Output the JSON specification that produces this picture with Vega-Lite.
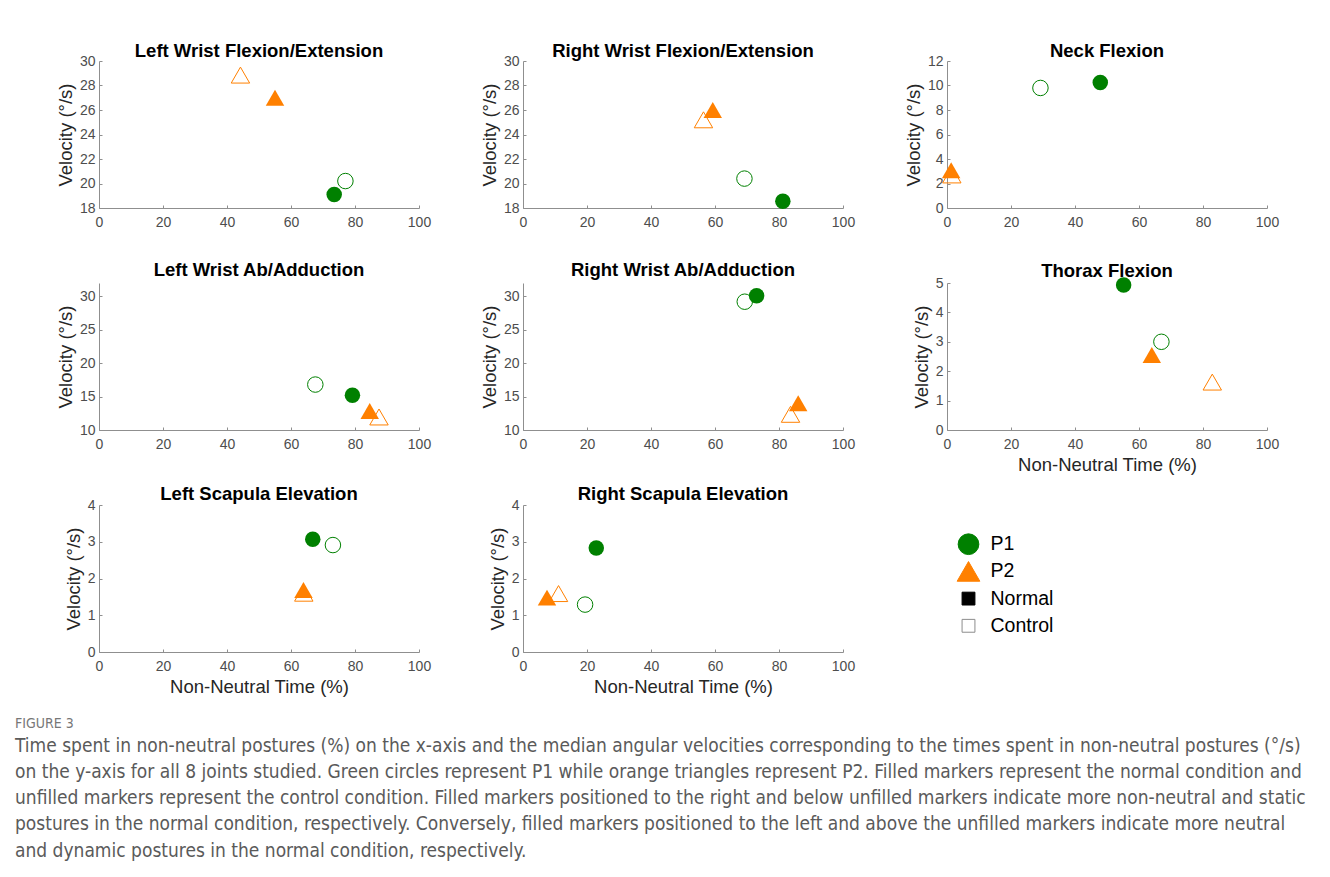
{
  "$schema": "https://vega.github.io/schema/vega-lite/v6.json",
  "padding": {"left": 15, "top": 41, "right": 5, "bottom": 5},
  "datasets": {
    "pts": [
      {"j": "LWFE", "p": "P1", "c": "Normal", "t": 73.5, "v": 19.1},
      {"j": "LWFE", "p": "P1", "c": "Control", "t": 77.0, "v": 20.2},
      {"j": "LWFE", "p": "P2", "c": "Normal", "t": 55.0, "v": 27.0},
      {"j": "LWFE", "p": "P2", "c": "Control", "t": 44.2, "v": 28.85},
      {"j": "RWFE", "p": "P1", "c": "Normal", "t": 81.2, "v": 18.55},
      {"j": "RWFE", "p": "P1", "c": "Control", "t": 69.2, "v": 20.4},
      {"j": "RWFE", "p": "P2", "c": "Normal", "t": 59.3, "v": 26.0},
      {"j": "RWFE", "p": "P2", "c": "Control", "t": 56.4, "v": 25.2},
      {"j": "NF", "p": "P1", "c": "Normal", "t": 47.9, "v": 10.25},
      {"j": "NF", "p": "P1", "c": "Control", "t": 29.2, "v": 9.8},
      {"j": "NF", "p": "P2", "c": "Normal", "t": 1.3, "v": 3.08},
      {"j": "NF", "p": "P2", "c": "Control", "t": 1.5, "v": 2.7},
      {"j": "LWAA", "p": "P1", "c": "Normal", "t": 79.2, "v": 15.2},
      {"j": "LWAA", "p": "P1", "c": "Control", "t": 67.6, "v": 16.8},
      {"j": "LWAA", "p": "P2", "c": "Normal", "t": 84.6, "v": 12.85},
      {"j": "LWAA", "p": "P2", "c": "Control", "t": 87.5, "v": 11.95},
      {"j": "RWAA", "p": "P1", "c": "Normal", "t": 73.0, "v": 30.1},
      {"j": "RWAA", "p": "P1", "c": "Control", "t": 69.3, "v": 29.2},
      {"j": "RWAA", "p": "P2", "c": "Normal", "t": 86.0, "v": 14.0},
      {"j": "RWAA", "p": "P2", "c": "Control", "t": 83.6, "v": 12.35},
      {"j": "TF", "p": "P1", "c": "Normal", "t": 55.2, "v": 4.93},
      {"j": "TF", "p": "P1", "c": "Control", "t": 67.0, "v": 3.0},
      {"j": "TF", "p": "P2", "c": "Normal", "t": 64.0, "v": 2.55},
      {"j": "TF", "p": "P2", "c": "Control", "t": 82.9, "v": 1.63},
      {"j": "LSE", "p": "P1", "c": "Normal", "t": 66.8, "v": 3.07},
      {"j": "LSE", "p": "P1", "c": "Control", "t": 73.1, "v": 2.91},
      {"j": "LSE", "p": "P2", "c": "Normal", "t": 63.9, "v": 1.69},
      {"j": "LSE", "p": "P2", "c": "Control", "t": 64.0, "v": 1.6},
      {"j": "RSE", "p": "P1", "c": "Normal", "t": 22.9, "v": 2.83},
      {"j": "RSE", "p": "P1", "c": "Control", "t": 19.4, "v": 1.29},
      {"j": "RSE", "p": "P2", "c": "Normal", "t": 7.5, "v": 1.48},
      {"j": "RSE", "p": "P2", "c": "Control", "t": 11.1, "v": 1.59}
    ],
    "leg": [
      {"item": "P1"},
      {"item": "P2"},
      {"item": "Normal"},
      {"item": "Control"}
    ]
  },
  "title": {
    "text": "FIGURE 3",
    "subtitle": [
      "Time spent in non-neutral postures (%) on the x-axis and the median angular velocities corresponding to the times spent in non-neutral postures (°/s)",
      "on the y-axis for all 8 joints studied. Green circles represent P1 while orange triangles represent P2. Filled markers represent the normal condition and",
      "unfilled markers represent the control condition. Filled markers positioned to the right and below unfilled markers indicate more non-neutral and static",
      "postures in the normal condition, respectively. Conversely, filled markers positioned to the left and above the unfilled markers indicate more neutral",
      "and dynamic postures in the normal condition, respectively."
    ],
    "orient": "bottom",
    "anchor": "start",
    "frame": "group",
    "dx": -84,
    "offset": 21,
    "font": "Liberation Sans Narrow, DejaVu Sans Condensed, Liberation Sans",
    "fontSize": 14,
    "fontWeight": "normal",
    "color": "#777777",
    "subtitleFont": "Liberation Sans Narrow, DejaVu Sans Condensed, Liberation Sans",
    "subtitleFontSize": 19,
    "subtitleColor": "#5a5a5a",
    "subtitleLineHeight": 26.3,
    "subtitlePadding": 6
  },
  "columns": 3,
  "spacing": {"row": 75, "column": 104},
  "bounds": "flush",
  "resolve": {"scale": {"color": "independent", "shape": "independent", "size": "independent", "fill": "independent", "stroke": "independent"}},
  "concat": [
    {
      "title": {"text": "Left Wrist Flexion/Extension", "offset": -6},
      "width": 320, "height": 147,
      "data": {"name": "pts"},
      "transform": [{"filter": "datum.j === 'LWFE'"}],
      "encoding": {
        "x": {"field": "t", "type": "quantitative", "scale": {"domain": [0, 100]}, "axis": {"values": [0, 20, 40, 60, 80, 100], "title": null}},
        "y": {"field": "v", "type": "quantitative", "scale": {"domain": [18, 30]}, "axis": {"values": [18, 20, 22, 24, 26, 28, 30], "title": "Velocity (°/s)"}},
        "color": {"field": "p", "type": "nominal", "scale": {"domain": ["P1", "P2"], "range": ["#008000", "#ff8000"]}, "legend": null},
        "shape": {"field": "p", "type": "nominal", "scale": {"domain": ["P1", "P2"], "range": ["circle", "triangle-up"]}, "legend": null},
        "size": {"field": "p", "type": "nominal", "scale": {"type": "ordinal", "domain": ["P1", "P2"], "range": [240, 340]}, "legend": null}
      },
      "layer": [
        {"transform": [{"filter": "datum.c === 'Control'"}], "mark": {"type": "point", "filled": false, "strokeWidth": 1, "opacity": 1}},
        {"transform": [{"filter": "datum.c === 'Normal'"}], "mark": {"type": "point", "filled": true, "opacity": 1}}
      ]
    },
    {
      "title": {"text": "Right Wrist Flexion/Extension", "offset": -6},
      "width": 320, "height": 147,
      "data": {"name": "pts"},
      "transform": [{"filter": "datum.j === 'RWFE'"}],
      "encoding": {
        "x": {"field": "t", "type": "quantitative", "scale": {"domain": [0, 100]}, "axis": {"values": [0, 20, 40, 60, 80, 100], "title": null}},
        "y": {"field": "v", "type": "quantitative", "scale": {"domain": [18, 30]}, "axis": {"values": [18, 20, 22, 24, 26, 28, 30], "title": "Velocity (°/s)"}},
        "color": {"field": "p", "type": "nominal", "scale": {"domain": ["P1", "P2"], "range": ["#008000", "#ff8000"]}, "legend": null},
        "shape": {"field": "p", "type": "nominal", "scale": {"domain": ["P1", "P2"], "range": ["circle", "triangle-up"]}, "legend": null},
        "size": {"field": "p", "type": "nominal", "scale": {"type": "ordinal", "domain": ["P1", "P2"], "range": [240, 340]}, "legend": null}
      },
      "layer": [
        {"transform": [{"filter": "datum.c === 'Control'"}], "mark": {"type": "point", "filled": false, "strokeWidth": 1, "opacity": 1}},
        {"transform": [{"filter": "datum.c === 'Normal'"}], "mark": {"type": "point", "filled": true, "opacity": 1}}
      ]
    },
    {
      "title": {"text": "Neck Flexion", "offset": -6},
      "width": 320, "height": 147,
      "data": {"name": "pts"},
      "transform": [{"filter": "datum.j === 'NF'"}],
      "encoding": {
        "x": {"field": "t", "type": "quantitative", "scale": {"domain": [0, 100]}, "axis": {"values": [0, 20, 40, 60, 80, 100], "title": null}},
        "y": {"field": "v", "type": "quantitative", "scale": {"domain": [0, 12]}, "axis": {"values": [0, 2, 4, 6, 8, 10, 12], "title": "Velocity (°/s)"}},
        "color": {"field": "p", "type": "nominal", "scale": {"domain": ["P1", "P2"], "range": ["#008000", "#ff8000"]}, "legend": null},
        "shape": {"field": "p", "type": "nominal", "scale": {"domain": ["P1", "P2"], "range": ["circle", "triangle-up"]}, "legend": null},
        "size": {"field": "p", "type": "nominal", "scale": {"type": "ordinal", "domain": ["P1", "P2"], "range": [240, 340]}, "legend": null}
      },
      "layer": [
        {"transform": [{"filter": "datum.c === 'Control'"}], "mark": {"type": "point", "filled": false, "strokeWidth": 1, "opacity": 1}},
        {"transform": [{"filter": "datum.c === 'Normal'"}], "mark": {"type": "point", "filled": true, "opacity": 1}}
      ]
    },
    {
      "title": {"text": "Left Wrist Ab/Adduction", "offset": 4},
      "width": 320, "height": 147,
      "data": {"name": "pts"},
      "transform": [{"filter": "datum.j === 'LWAA'"}],
      "encoding": {
        "x": {"field": "t", "type": "quantitative", "scale": {"domain": [0, 100]}, "axis": {"values": [0, 20, 40, 60, 80, 100], "title": null}},
        "y": {"field": "v", "type": "quantitative", "scale": {"domain": [10, 32]}, "axis": {"values": [10, 15, 20, 25, 30], "title": "Velocity (°/s)"}},
        "color": {"field": "p", "type": "nominal", "scale": {"domain": ["P1", "P2"], "range": ["#008000", "#ff8000"]}, "legend": null},
        "shape": {"field": "p", "type": "nominal", "scale": {"domain": ["P1", "P2"], "range": ["circle", "triangle-up"]}, "legend": null},
        "size": {"field": "p", "type": "nominal", "scale": {"type": "ordinal", "domain": ["P1", "P2"], "range": [240, 340]}, "legend": null}
      },
      "layer": [
        {"transform": [{"filter": "datum.c === 'Control'"}], "mark": {"type": "point", "filled": false, "strokeWidth": 1, "opacity": 1}},
        {"transform": [{"filter": "datum.c === 'Normal'"}], "mark": {"type": "point", "filled": true, "opacity": 1}}
      ]
    },
    {
      "title": {"text": "Right Wrist Ab/Adduction", "offset": 4},
      "width": 320, "height": 147,
      "data": {"name": "pts"},
      "transform": [{"filter": "datum.j === 'RWAA'"}],
      "encoding": {
        "x": {"field": "t", "type": "quantitative", "scale": {"domain": [0, 100]}, "axis": {"values": [0, 20, 40, 60, 80, 100], "title": null}},
        "y": {"field": "v", "type": "quantitative", "scale": {"domain": [10, 32]}, "axis": {"values": [10, 15, 20, 25, 30], "title": "Velocity (°/s)"}},
        "color": {"field": "p", "type": "nominal", "scale": {"domain": ["P1", "P2"], "range": ["#008000", "#ff8000"]}, "legend": null},
        "shape": {"field": "p", "type": "nominal", "scale": {"domain": ["P1", "P2"], "range": ["circle", "triangle-up"]}, "legend": null},
        "size": {"field": "p", "type": "nominal", "scale": {"type": "ordinal", "domain": ["P1", "P2"], "range": [240, 340]}, "legend": null}
      },
      "layer": [
        {"transform": [{"filter": "datum.c === 'Control'"}], "mark": {"type": "point", "filled": false, "strokeWidth": 1, "opacity": 1}},
        {"transform": [{"filter": "datum.c === 'Normal'"}], "mark": {"type": "point", "filled": true, "opacity": 1}}
      ]
    },
    {
      "title": {"text": "Thorax Flexion", "offset": -4},
      "width": 320, "height": 147,
      "data": {"name": "pts"},
      "transform": [{"filter": "datum.j === 'TF'"}],
      "encoding": {
        "x": {"field": "t", "type": "quantitative", "scale": {"domain": [0, 100]}, "axis": {"values": [0, 20, 40, 60, 80, 100], "title": "Non-Neutral Time (%)"}},
        "y": {"field": "v", "type": "quantitative", "scale": {"domain": [0, 5]}, "axis": {"values": [0, 1, 2, 3, 4, 5], "title": "Velocity (°/s)"}},
        "color": {"field": "p", "type": "nominal", "scale": {"domain": ["P1", "P2"], "range": ["#008000", "#ff8000"]}, "legend": null},
        "shape": {"field": "p", "type": "nominal", "scale": {"domain": ["P1", "P2"], "range": ["circle", "triangle-up"]}, "legend": null},
        "size": {"field": "p", "type": "nominal", "scale": {"type": "ordinal", "domain": ["P1", "P2"], "range": [240, 340]}, "legend": null}
      },
      "layer": [
        {"transform": [{"filter": "datum.c === 'Control'"}], "mark": {"type": "point", "filled": false, "strokeWidth": 1, "opacity": 1}},
        {"transform": [{"filter": "datum.c === 'Normal'"}], "mark": {"type": "point", "filled": true, "opacity": 1}}
      ]
    },
    {
      "title": {"text": "Left Scapula Elevation", "offset": -5},
      "width": 320, "height": 147,
      "data": {"name": "pts"},
      "transform": [{"filter": "datum.j === 'LSE'"}],
      "encoding": {
        "x": {"field": "t", "type": "quantitative", "scale": {"domain": [0, 100]}, "axis": {"values": [0, 20, 40, 60, 80, 100], "title": "Non-Neutral Time (%)"}},
        "y": {"field": "v", "type": "quantitative", "scale": {"domain": [0, 4]}, "axis": {"values": [0, 1, 2, 3, 4], "title": "Velocity (°/s)"}},
        "color": {"field": "p", "type": "nominal", "scale": {"domain": ["P1", "P2"], "range": ["#008000", "#ff8000"]}, "legend": null},
        "shape": {"field": "p", "type": "nominal", "scale": {"domain": ["P1", "P2"], "range": ["circle", "triangle-up"]}, "legend": null},
        "size": {"field": "p", "type": "nominal", "scale": {"type": "ordinal", "domain": ["P1", "P2"], "range": [240, 340]}, "legend": null}
      },
      "layer": [
        {"transform": [{"filter": "datum.c === 'Control'"}], "mark": {"type": "point", "filled": false, "strokeWidth": 1, "opacity": 1}},
        {"transform": [{"filter": "datum.c === 'Normal'"}], "mark": {"type": "point", "filled": true, "opacity": 1}}
      ]
    },
    {
      "title": {"text": "Right Scapula Elevation", "offset": -5},
      "width": 320, "height": 147,
      "data": {"name": "pts"},
      "transform": [{"filter": "datum.j === 'RSE'"}],
      "encoding": {
        "x": {"field": "t", "type": "quantitative", "scale": {"domain": [0, 100]}, "axis": {"values": [0, 20, 40, 60, 80, 100], "title": "Non-Neutral Time (%)"}},
        "y": {"field": "v", "type": "quantitative", "scale": {"domain": [0, 4]}, "axis": {"values": [0, 1, 2, 3, 4], "title": "Velocity (°/s)"}},
        "color": {"field": "p", "type": "nominal", "scale": {"domain": ["P1", "P2"], "range": ["#008000", "#ff8000"]}, "legend": null},
        "shape": {"field": "p", "type": "nominal", "scale": {"domain": ["P1", "P2"], "range": ["circle", "triangle-up"]}, "legend": null},
        "size": {"field": "p", "type": "nominal", "scale": {"type": "ordinal", "domain": ["P1", "P2"], "range": [240, 340]}, "legend": null}
      },
      "layer": [
        {"transform": [{"filter": "datum.c === 'Control'"}], "mark": {"type": "point", "filled": false, "strokeWidth": 1, "opacity": 1}},
        {"transform": [{"filter": "datum.c === 'Normal'"}], "mark": {"type": "point", "filled": true, "opacity": 1}}
      ]
    },
    {
      "width": 43, "height": 136,
      "data": {"name": "leg"},
      "encoding": {
        "y": {"field": "item", "type": "nominal", "scale": {"domain": ["P1", "P2", "Normal", "Control"], "padding": 1}, "axis": null}
      },
      "layer": [
        {
          "mark": {"type": "point", "filled": true, "opacity": 1, "strokeWidth": 1, "yOffset": 12},
          "encoding": {
            "shape": {"field": "item", "type": "nominal", "scale": {"domain": ["P1", "P2", "Normal", "Control"], "range": ["circle", "triangle-up", "square", "square"]}, "legend": null},
            "fill": {"field": "item", "type": "nominal", "scale": {"domain": ["P1", "P2", "Normal", "Control"], "range": ["#008000", "#ff8000", "#000000", "#ffffff"]}, "legend": null},
            "stroke": {"field": "item", "type": "nominal", "scale": {"domain": ["P1", "P2", "Normal", "Control"], "range": ["#008000", "#ff8000", "#000000", "#8c8c8c"]}, "legend": null},
            "size": {"field": "item", "type": "nominal", "scale": {"type": "ordinal", "domain": ["P1", "P2", "Normal", "Control"], "range": [430, 515, 165, 165]}, "legend": null}
          }
        },
        {
          "mark": {"type": "text", "align": "left", "dx": 22, "yOffset": 12, "fontSize": 19.5, "font": "Liberation Sans", "color": "#000000"},
          "encoding": {"text": {"field": "item"}}
        }
      ]
    }
  ],
  "config": {
    "view": {"stroke": null},
    "font": "Liberation Sans",
    "axis": {
      "grid": false,
      "domainColor": "#8f8f8f",
      "tickColor": "#8f8f8f",
      "tickSize": -3,
      "labelPadding": 7,
      "labelFontSize": 14,
      "labelColor": "#4d4d4d",
      "labelFont": "Liberation Sans",
      "labelFlush": false,
      "labelOverlap": false,
      "titleFont": "Liberation Sans",
      "titleFontSize": 18.5,
      "titleFontWeight": "normal",
      "titleColor": "#262626",
      "titlePadding": 4
    },
    "axisX": {"labelPadding": 10},
    "title": {"font": "Liberation Sans", "fontSize": 18.5, "fontWeight": "bold", "color": "#000000", "frame": "group"}
  }
}
